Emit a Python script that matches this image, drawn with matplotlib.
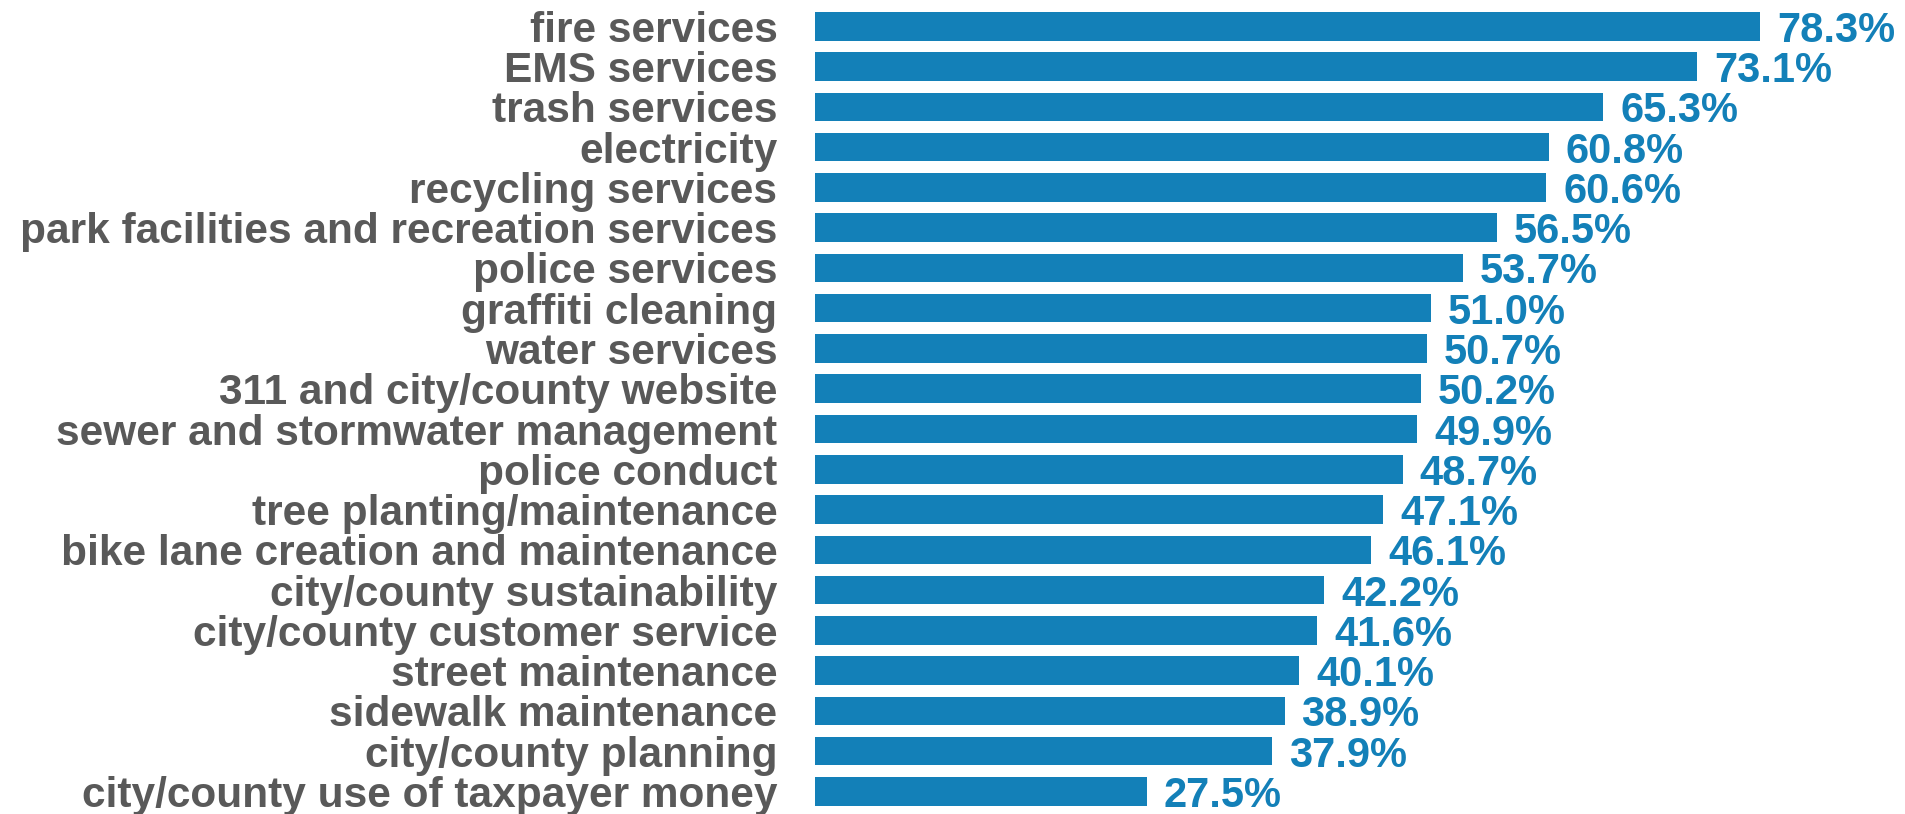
import matplotlib
matplotlib.use("Agg")
import matplotlib.pyplot as plt

categories = [
    "fire services", "EMS services", "trash services", "electricity",
    "recycling services", "park facilities and recreation services",
    "police services", "graffiti cleaning", "water services",
    "311 and city/county website", "sewer and stormwater management",
    "police conduct", "tree planting/maintenance",
    "bike lane creation and maintenance", "city/county sustainability",
    "city/county customer service", "street maintenance",
    "sidewalk maintenance", "city/county planning",
    "city/county use of taxpayer money",
]
values = [78.3, 73.1, 65.3, 60.8, 60.6, 56.5, 53.7, 51.0, 50.7, 50.2,
          49.9, 48.7, 47.1, 46.1, 42.2, 41.6, 40.1, 38.9, 37.9, 27.5]

blue = "#1380b8"
grey = "#595959"
plt.rcParams["font.family"] = ["Liberation Sans", "DejaVu Sans"]

fig = plt.figure(figsize=(19.06, 8.14), dpi=100)
ax = fig.add_axes([815 / 1906, 0, 1 - 815 / 1906, 1])

ypos = list(range(len(categories)))
ax.barh(ypos, values, height=0.71, color=blue)
ax.set_xlim(0, 1091 / 12.07)
ax.set_ylim(19.56, -0.653)

for y, v in zip(ypos, values):
    ax.text(v + 1.4, y, "{:.1f}%".format(v), color=blue, fontsize=30,
            fontweight="bold", va="center_baseline", ha="left")

ax.set_yticks(ypos)
ax.set_yticklabels(categories, fontsize=30.5, fontweight="bold", color=grey)
ax.tick_params(axis="y", length=0, pad=27)
ax.set_xticks([])
for s in ax.spines.values():
    s.set_visible(False)

fig.savefig("out.png", dpi=100)
